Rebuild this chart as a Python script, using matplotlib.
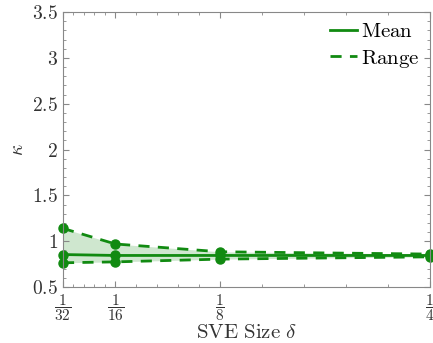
import matplotlib
matplotlib.use('Agg')
import matplotlib.pyplot as plt

plt.rcParams['mathtext.fontset'] = 'cm'
plt.rcParams['font.family'] = 'serif'

# data
sizes = [1/32, 1/16, 1/8, 1/4]
size_labels = [r'$\dfrac{1}{32}$', r'$\dfrac{1}{16}$', r'$\dfrac{1}{8}$', r'$\dfrac{1}{4}$']
kappa_mean = [0.855, 0.845, 0.845, 0.845]
kappa_max = [1.14, 0.97, 0.885, 0.86]
kappa_min = [0.765, 0.775, 0.805, 0.83]

green = '#118a11'

fig = plt.figure(figsize=(4.33, 3.43), dpi=100)
ax = fig.add_axes([0.1455, 0.163, 0.8475, 0.802])

ax.fill_between(sizes, kappa_min, kappa_max, color=green, alpha=0.2, lw=0)
ax.plot(sizes, kappa_mean, '-', color=green, lw=2, label=r'$\mathrm{Mean}$')
ax.plot(sizes, kappa_max, '--', color=green, lw=2, label=r'$\mathrm{Range}$', dashes=(4, 3))
ax.plot(sizes, kappa_min, '--', color=green, lw=2, dashes=(4, 3))
for ys in (kappa_mean, kappa_max, kappa_min):
    ax.plot(sizes, ys, 'o', color=green, ms=6.5, clip_on=False)

ax.set_xlim(1/32, 1/4)
ax.set_ylim(0.5, 3.5)

ax.set_xticks(sizes)
ax.set_xticklabels(size_labels, fontsize=11)
minor_x = []
for a, b in zip(sizes[:-1], sizes[1:]):
    minor_x += [a + (b - a) * k / 5 for k in range(1, 5)]
ax.set_xticks(minor_x, minor=True)

yt = [0.5, 1, 1.5, 2, 2.5, 3, 3.5]
ax.set_yticks(yt)
ax.set_yticklabels(['$%g$' % v for v in yt], fontsize=14)
ax.set_yticks([0.5 + 0.1 * k for k in range(31)], minor=True)

ax.tick_params(which='both', direction='in', top=True, right=True, color='#888888',
               labelcolor='#333333')
ax.tick_params(which='major', length=4)
ax.tick_params(which='minor', length=2)
ax.tick_params(axis='x', pad=4)
for s in ax.spines.values():
    s.set_color('#888888')

ax.set_xlabel(r'$\mathrm{SVE\ Size}\ \delta$', fontsize=15, labelpad=0, color='#333333')
ax.set_ylabel(r'$\kappa$', fontsize=14, color='#333333')

ax.legend(loc='upper right', frameon=False, fontsize=15, handlelength=1.3,
          handletextpad=0.2, borderaxespad=0.1, labelspacing=0.3)

fig.savefig('out.png', dpi=100)
